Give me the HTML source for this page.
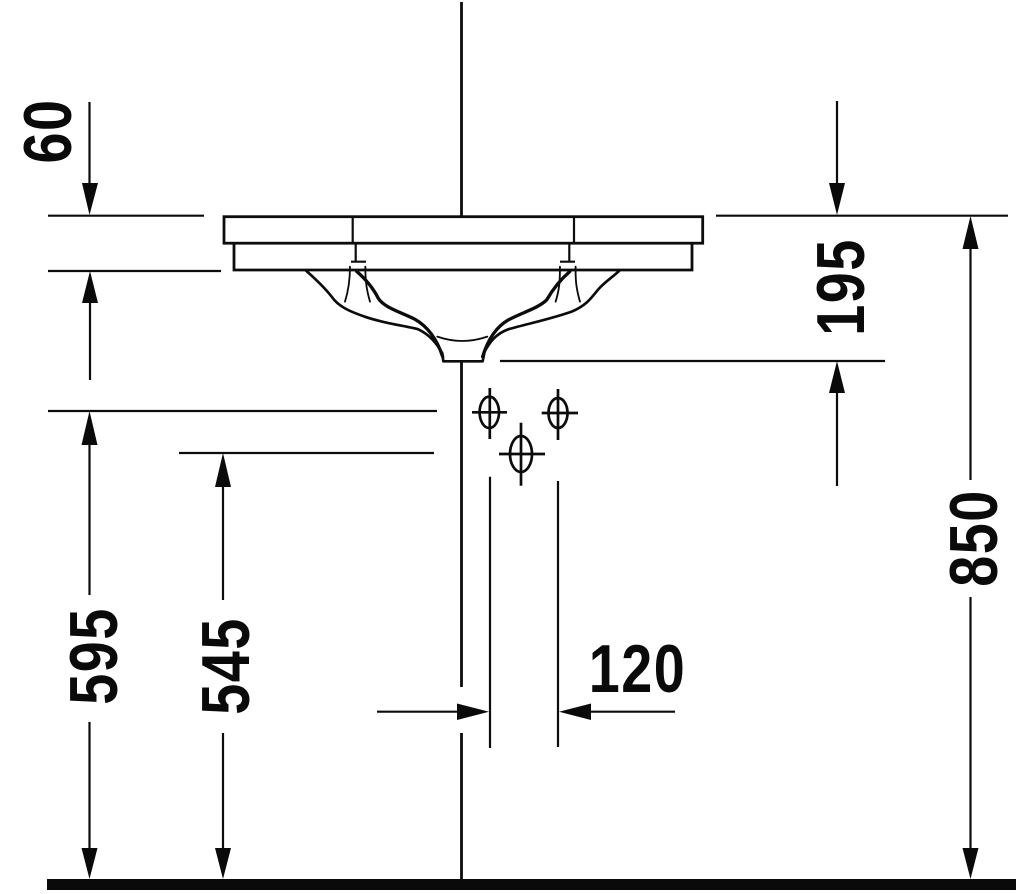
<!DOCTYPE html>
<html><head><meta charset="utf-8"><style>
html,body{margin:0;padding:0;background:#fff;width:1024px;height:894px;overflow:hidden}
svg{display:block;filter:blur(.35px)}
text{font-family:"Liberation Sans",sans-serif;font-weight:700;font-size:68px;fill:#0a0a0a;text-anchor:middle;letter-spacing:1.8px}
</style></head><body>
<svg width="1024" height="894" viewBox="0 0 1024 894" xmlns="http://www.w3.org/2000/svg">
<rect width="1024" height="894" fill="#fff"/>
<g fill="none" stroke="#0c0c0c" stroke-width="2.2">
<!-- center line -->
<path stroke-width="2.8" d="M461.5 2V216M461.5 362V687M461.5 733V880"/>
<!-- basin -->
<g stroke-width="2.8">
<rect x="224" y="216.7" width="478.7" height="26.5"/>
<path d="M234 243.2V270H692V243.2"/>
</g>
<path d="M352.7 217V243M574 217V243M355.7 243V262M351 261.7H366M569.3 243V262M560 261.7H575"/>
<g transform="translate(210 200) scale(.3333)" stroke-width="8" stroke-linejoin="round" stroke-linecap="round">
<path d="M288 212C320 240 345 265 365 290C385 320 420 335 470 352C530 372 590 378 625 388C660 405 680 430 697 460L700 484H818L824 455C840 425 860 400 895 388C950 372 1020 358 1085 335C1125 318 1140 300 1165 268C1185 245 1210 230 1228 212"/>
<path d="M440 214C470 240 490 265 505 295C525 325 570 335 615 358C650 378 680 415 698 470" stroke-width="10"/>
<path d="M1080 214C1050 240 1030 265 1010 300C985 325 930 340 895 360C860 380 835 415 818 470" stroke-width="10"/>
<path d="M682 410Q757 436 832 410" stroke-width="5.5"/>
<path d="M420 200C420 240 416 270 405 305M466 200C466 245 470 270 480 305M1050 200C1050 245 1048 270 1037 305M1097 200C1096 245 1100 270 1110 305" stroke-width="5.5"/>
</g>
<!-- extension lines -->
<path d="M48 215.7H204M48 271H221M48 411H437M179 453H434M716 215.7H1008M500 361H885"/>
<!-- dimension lines -->
<path d="M89.5 102V190M90 295V380M89.5 440V595M89.5 722V855M223 480V600M223 733V855M837 101V190M837 385V486M970.5 240V480M970.5 597V855"/>
<path d="M377 711.7H465M583 711.7H675M490 476.7V748M558 481V747"/>
<!-- holes -->
<g stroke-width="2.7">
<ellipse cx="489.3" cy="412.3" rx="9.7" ry="15.7"/>
<path d="M472 412.3H507M489.8 388V439"/>
<ellipse cx="558" cy="413" rx="9.5" ry="15"/>
<path d="M541.7 413H578M558 389V440"/>
<ellipse cx="521" cy="454" rx="11" ry="18"/>
<path d="M499 454H545M521 422.7V485.7"/>
</g>
</g>
<!-- arrowheads and ground -->
<g fill="#0a0a0a">
<path d="M89.5 215L82 183H98Z"/>
<path d="M90 271L82 303H98Z"/>
<path d="M89.5 411L81.5 445H97.5Z"/>
<path d="M89.5 879L81.5 848H97.5Z"/>
<path d="M223 453L215 487H231Z"/>
<path d="M223 879L215 848H231Z"/>
<path d="M837 215L829 183H845Z"/>
<path d="M837 361L829 393H845Z"/>
<path d="M970.5 216L962.5 249H978.5Z"/>
<path d="M970.5 879L962.5 848H978.5Z"/>
<path d="M489 711.7L457 703.5V720Z"/>
<path d="M559 711.7L591 703.5V720Z"/>
<rect x="47" y="879" width="969" height="11"/>
</g>
<!-- labels -->
<text transform="translate(71 131) rotate(-90) scale(.82 1)">60</text>
<text transform="translate(117 656) rotate(-90) scale(.82 1)">595</text>
<text transform="translate(249 666) rotate(-90) scale(.82 1)">545</text>
<text transform="translate(864 287) rotate(-90) scale(.82 1)">195</text>
<text transform="translate(997 538) rotate(-90) scale(.82 1)">850</text>
<text transform="translate(637.5 692) scale(.82 1)">120</text>
</svg>
</body></html>
